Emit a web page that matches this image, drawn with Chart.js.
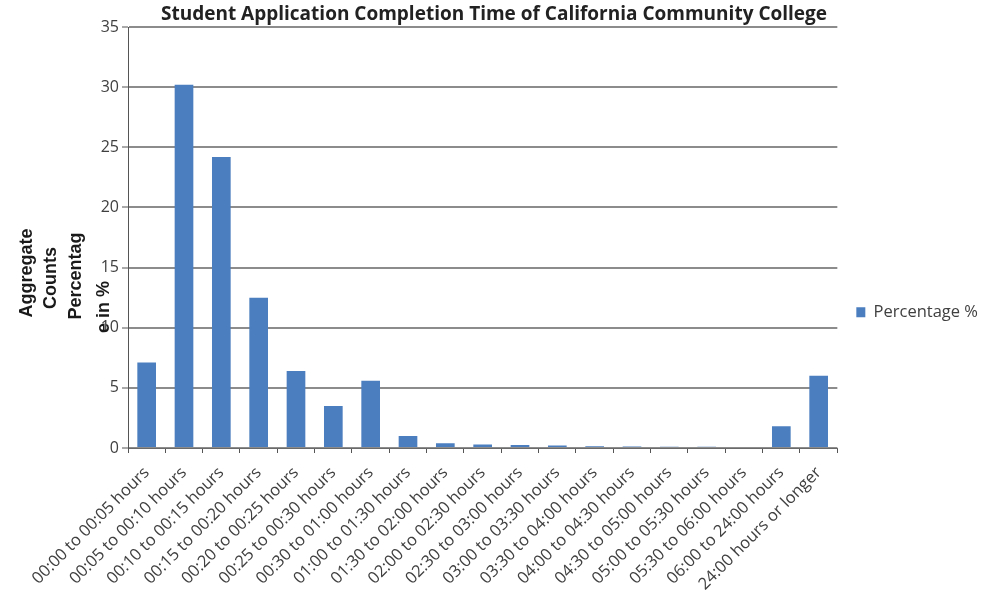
<!DOCTYPE html>
<html>
<head>
<meta charset="utf-8">
<script src="https://cdn.jsdelivr.net/npm/chart.js@4.4.1/dist/chart.umd.min.js"></script>
<style>
  html, body { margin: 0; padding: 0; background: #ffffff; }
  #wrap { width: 996px; height: 596px; position: relative; }
</style>
</head>
<body>
<div id="wrap"><canvas id="c" width="996" height="596"></canvas></div>
<script>
const chartTitle = "Student Application Completion Time of California Community College";
const seriesName = "Percentage %";
const catLabels = [
  "00:00 to 00:05 hours", "00:05 to 00:10 hours", "00:10 to 00:15 hours",
  "00:15 to 00:20 hours", "00:20 to 00:25 hours", "00:25 to 00:30 hours",
  "00:30 to 01:00 hours", "01:00 to 01:30 hours", "01:30 to 02:00 hours",
  "02:00 to 02:30 hours", "02:30 to 03:00 hours", "03:00 to 03:30 hours",
  "03:30 to 04:00 hours", "04:00 to 04:30 hours", "04:30 to 05:00 hours",
  "05:00 to 05:30 hours", "05:30 to 06:00 hours", "06:00 to 24:00 hours",
  "24:00 hours or longer"
];
const percentValues = [7.1, 30.2, 24.2, 12.5, 6.4, 3.5, 5.6, 1.0, 0.4, 0.3, 0.25, 0.2, 0.15, 0.12, 0.1, 0.1, 0.08, 1.8, 6.0];
const yTickMin = 0;
const yTickMax = 35;
const yTickStep = 5;
const yTitleLines = ["Aggregate", "Counts", "Percentag", "e in %"];

const yTitlePlugin = {
  id: 'yTitleLines',
  afterDraw(chart) {
    const ctx = chart.ctx;
    const xs = [27, 51, 76, 104];
    const ys = [273, 278, 276, 307];
    ctx.save();
    ctx.font = 'bold 18px "Liberation Sans", Arial, sans-serif';
    ctx.fillStyle = '#1a1a1a';
    ctx.textAlign = 'center';
    ctx.textBaseline = 'middle';
    yTitleLines.forEach((t, i) => {
      ctx.save();
      ctx.translate(xs[i], ys[i]);
      ctx.rotate(-Math.PI / 2);
      ctx.fillText(t, 0, 0);
      ctx.restore();
    });
    ctx.restore();
  }
};

new Chart(document.getElementById('c'), {
  type: 'bar',
  data: {
    labels: catLabels,
    datasets: [{
      label: seriesName,
      data: percentValues,
      backgroundColor: '#4a7ebf',
      borderWidth: 0,
      barPercentage: 0.5,
      categoryPercentage: 1.0
    }]
  },
  options: {
    responsive: false,
    animation: false,
    devicePixelRatio: 1,
    layout: { padding: { left: 0, right: 8, top: 0, bottom: 0 } },
    plugins: {
      title: {
        display: true,
        text: chartTitle,
        color: '#222222',
        font: { family: '"Open Sans", sans-serif', size: 19, weight: 'bold', lineHeight: 1 },
        padding: { top: 5, bottom: 3 }
      },
      legend: {
        display: true,
        position: 'right',
        align: 'center',
        title: { display: true, text: '', font: { size: 12 }, padding: { top: 7, bottom: 7 } },
        labels: {
          boxWidth: 9,
          boxHeight: 10,
          padding: 19,
          color: '#404040',
          font: { family: '"Open Sans", sans-serif', size: 16.5 }
        }
      },
      tooltip: { enabled: false }
    },
    scales: {
      x: {
        grid: { drawOnChartArea: false, drawTicks: true, tickLength: 5, tickColor: '#555555', offset: true },
        border: { display: true, color: '#6a6a6a', width: 1 },
        ticks: {
          autoSkip: false,
          minRotation: 45,
          maxRotation: 45,
          color: '#404040',
          font: { family: '"Open Sans", sans-serif', size: 16.5 },
          padding: 10
        },
        afterFit(scale) { scale.height = 148; }
      },
      y: {
        min: yTickMin,
        max: yTickMax,
        ticks: {
          stepSize: yTickStep,
          color: '#404040',
          font: { family: '"Open Sans", sans-serif', size: 16 },
          padding: 3
        },
        grid: { color: '#8c8c8c', lineWidth: 2, tickLength: 6, tickColor: '#555555', tickWidth: 1 },
        border: { display: true, color: '#555555', width: 1 },
        afterFit(scale) { scale.width = 128; }
      }
    }
  },
  plugins: [yTitlePlugin]
});
</script>
</body>
</html>
